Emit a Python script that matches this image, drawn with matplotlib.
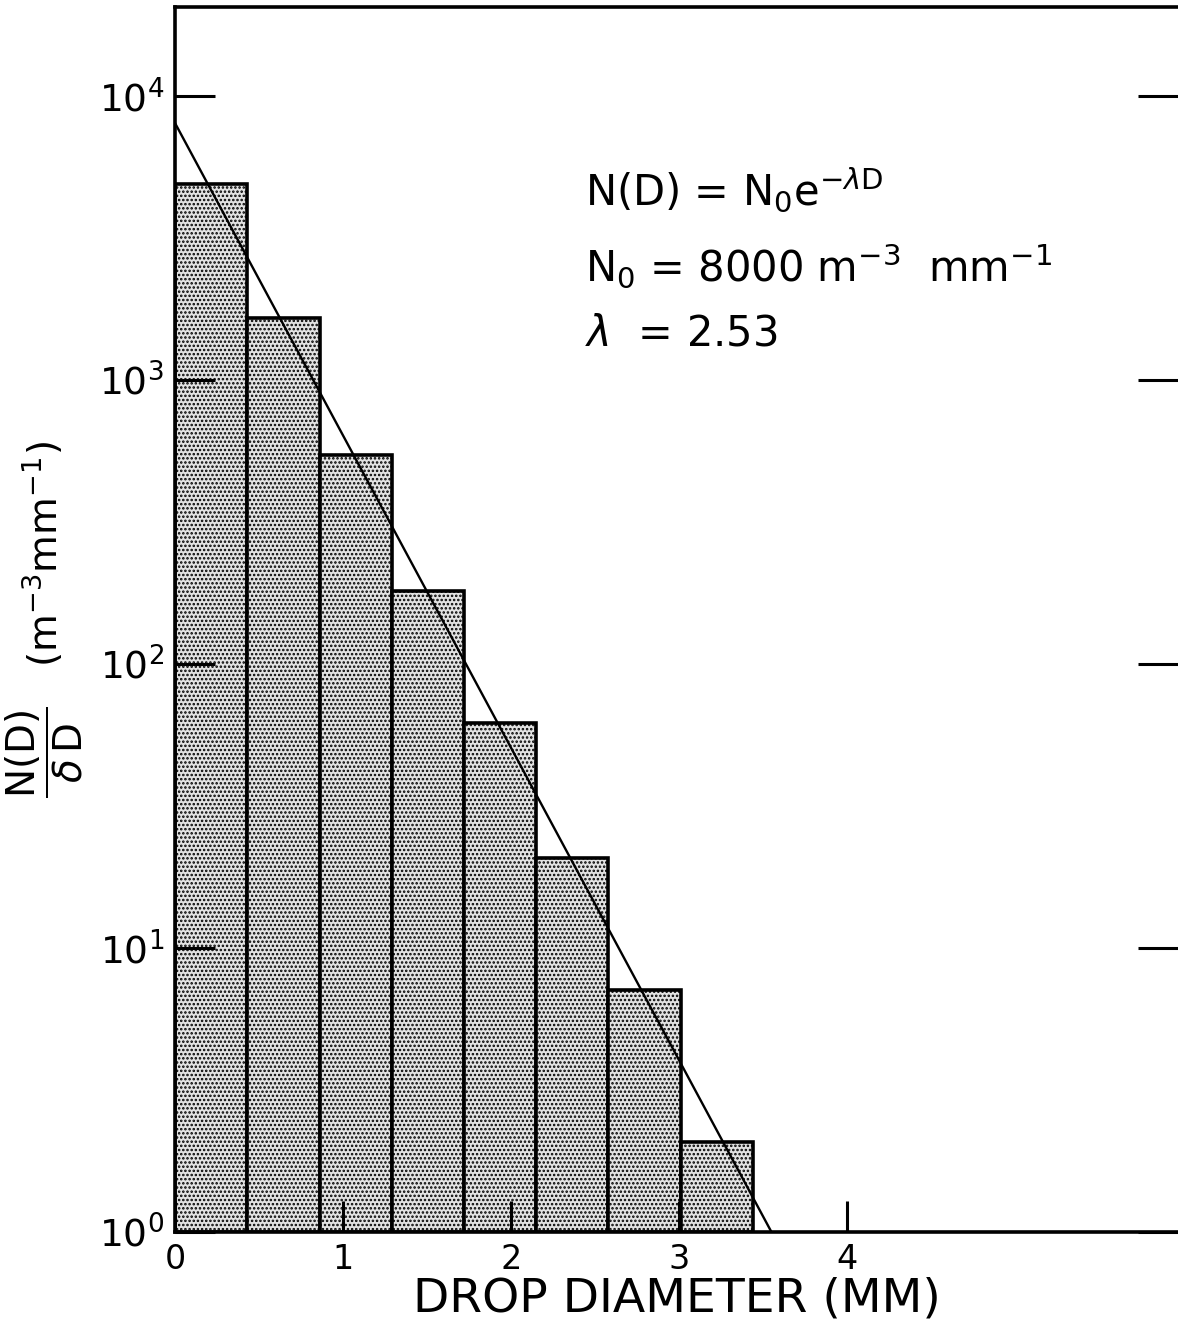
import matplotlib
matplotlib.use("Agg")
import matplotlib.pyplot as plt

# drop size histogram (Marshall-Palmer type)
bin_edges = [0.0, 0.43, 0.86, 1.29, 1.72, 2.15, 2.58, 3.01, 3.44]
counts = [4900, 1650, 545, 180, 62, 20.7, 7.1, 2.07]

# fitted exponential N(D) = N0 exp(-lambda D), end points
fit_d = [0.0, 3.55]
fit_n = [8000, 1.0]

xticks = [0, 1, 2, 3, 4]
yticks = [1, 10, 100, 1000, 10000]

plt.rcParams['mathtext.fontset'] = 'dejavusans'
plt.rcParams['hatch.color'] = '#555555'
plt.rcParams['hatch.linewidth'] = 1.2

fig = plt.figure(figsize=(11.78, 13.27), dpi=100)
ax = fig.add_axes([0.1486, 0.0716, 0.8514, 0.9231])

widths = [b - a for a, b in zip(bin_edges[:-1], bin_edges[1:])]
heights = [c - 1 for c in counts]  # bars start at the 10^0 baseline
ax.bar(bin_edges[:-1], heights, width=widths, align='edge', bottom=1,
       facecolor='#e2e2e2', edgecolor='black', linewidth=2.6, hatch='....')
ax.plot(fit_d, fit_n, color='black', lw=1.7)

ax.set_yscale('log')
ax.set_xlim(0, 5.97)
ax.set_ylim(1, 20500)
ax.set_xticks(xticks)
ax.set_yticks(yticks)
ax.minorticks_off()
ax.tick_params(axis='y', direction='in', length=29, width=2.2, labelsize=27,
               right=True, pad=8)
ax.tick_params(axis='x', direction='in', length=22, width=2.2, labelsize=24, pad=8)
for s in ['left', 'bottom', 'top']:
    ax.spines[s].set_linewidth(2.6)
ax.spines['right'].set_visible(False)

ax.set_xlabel('DROP DIAMETER (MM)', fontsize=34, labelpad=0)
ax.set_ylabel(r'$\dfrac{\mathrm{N(D)}}{\delta\,\mathrm{D}}$   (m$^{-3}$mm$^{-1}$)',
              fontsize=28, labelpad=10)

fig.text(0.4966, 0.857, r'N(D) = N$_0$e$^{-\lambda\mathrm{D}}$', fontsize=30,
         va='center')
fig.text(0.4966, 0.800, r'N$_0$ = 8000 m$^{-3}$  mm$^{-1}$', fontsize=30,
         va='center')
fig.text(0.4966, 0.749, r'$\lambda$  = 2.53', fontsize=30, va='center')

fig.savefig('out.png', dpi=100)
